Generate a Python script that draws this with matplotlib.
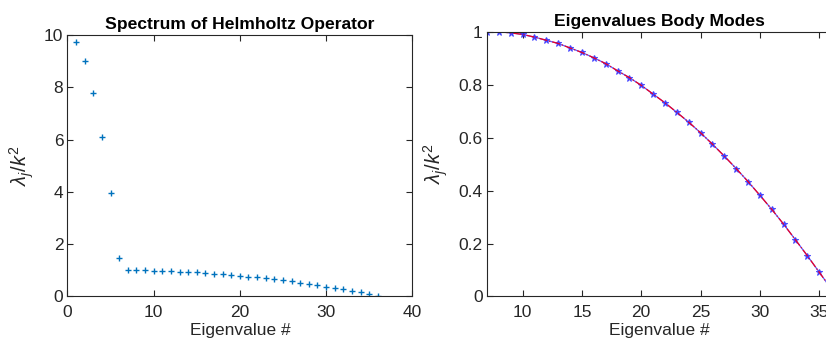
import matplotlib
matplotlib.use("Agg")
import matplotlib.pyplot as plt

plt.rcParams['font.family'] = ['Liberation Sans', 'DejaVu Sans']
plt.rcParams['mathtext.fontset'] = 'custom'
plt.rcParams['mathtext.rm'] = 'Liberation Sans'
plt.rcParams['mathtext.it'] = 'Liberation Sans:italic'

# Data
n_all = list(range(1, 37))
spectrum = [9.73, 9.01, 7.77, 6.08, 3.94, 1.46,
            1.0, 0.999, 0.995, 0.989, 0.979, 0.967, 0.955, 0.938, 0.921, 0.901,
            0.879, 0.852, 0.826, 0.797, 0.764, 0.731, 0.695, 0.658, 0.618, 0.575,
            0.530, 0.483, 0.434, 0.382, 0.329, 0.273, 0.214, 0.154, 0.092, 0.03]
n_body = list(range(7, 37))
body_numeric = spectrum[6:]
body_analytic = spectrum[6:]

left_xticks = [0, 10, 20, 30, 40]
left_yticks = [0, 2, 4, 6, 8, 10]
right_xticks = [10, 15, 20, 25, 30, 35]
right_yticks = [0, 0.2, 0.4, 0.6, 0.8, 1]
right_yticklabels = ['0', '0.2', '0.4', '0.6', '0.8', '1']

gray = '#262626'
fig = plt.figure(figsize=(8.26, 3.45), dpi=100)
ax1 = fig.add_axes([0.0817, 0.1406, 0.4174, 0.758])
ax2 = fig.add_axes([0.5896, 0.1406, 0.4165, 0.768])

def style(ax, right=True):
    for s in ax.spines.values():
        s.set_color(gray)
        s.set_linewidth(0.8)
    ax.tick_params(direction='in', top=True, right=right, length=4, width=0.8,
                   colors=gray, labelsize=12.5, labelcolor=gray, pad=3)
    ax.tick_params(axis='x', pad=6)

ax1.plot(n_all, spectrum, '+', color='#0072BD', markersize=5, markeredgewidth=1)
ax1.set_xlim(0, 40)
ax1.set_ylim(0, 10)
ax1.set_xticks(left_xticks)
ax1.set_yticks(left_yticks)
style(ax1)
ax1.set_title('Spectrum of Helmholtz Operator', fontsize=12.6, fontweight='bold', pad=4)
ax1.set_xlabel('Eigenvalue #', fontsize=12.5, color=gray, labelpad=2)
ax1.set_ylabel(r'$\lambda_j/k^2$', fontsize=14.5, color=gray, labelpad=6)

ax2.plot(n_body, body_numeric, '-*', color='#3333ff', markersize=5, linewidth=0.9,
         markeredgewidth=0.8, alpha=0.8)
ax2.plot(n_body, body_analytic, '-.', color='#ee0022', markersize=5, linewidth=0.9)
ax2.set_xlim(7, 36)
ax2.set_ylim(0, 1)
ax2.set_xticks(right_xticks)
ax2.set_yticks(right_yticks)
ax2.set_yticklabels(right_yticklabels)
style(ax2, right=False)
ax2.set_title('Eigenvalues Body Modes', fontsize=12.6, fontweight='bold', pad=4)
ax2.set_xlabel('Eigenvalue #', fontsize=12.5, color=gray, labelpad=2)
ax2.set_ylabel(r'$\lambda_j/k^2$', fontsize=14.5, color=gray, labelpad=6)

fig.savefig('out.png', dpi=100)
